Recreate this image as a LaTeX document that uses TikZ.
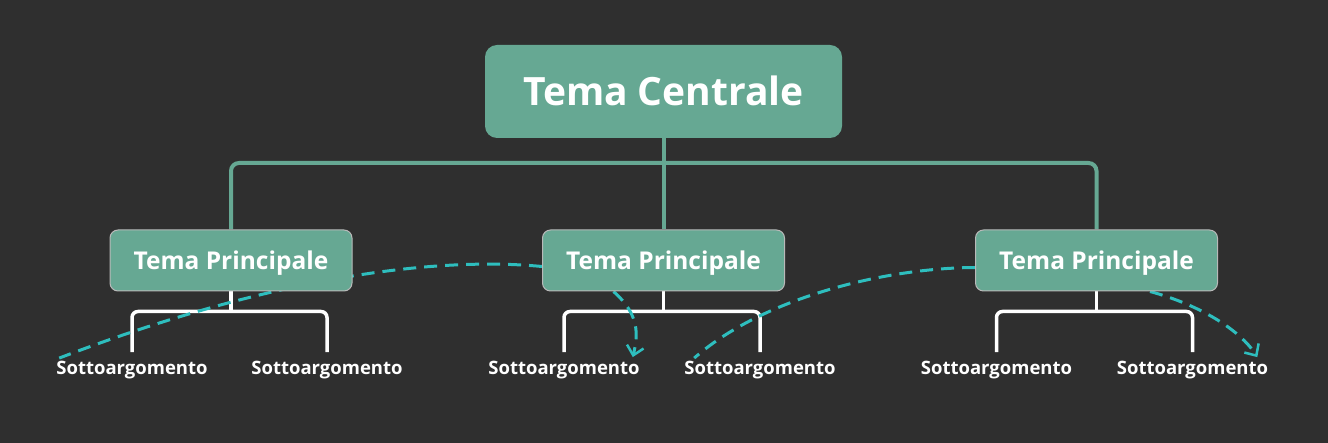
\documentclass[tikz,border=0pt]{standalone}
\usepackage{fontspec}
\setmainfont{Open Sans}
\usetikzlibrary{arrows.meta}
\definecolor{bgc}{RGB}{47,47,47}
\definecolor{teal1}{RGB}{102,168,147}
\definecolor{cyan1}{RGB}{46,190,190}
\definecolor{bord}{RGB}{185,185,185}
\pgfdeclarelayer{bg}
\pgfsetlayers{bg,main}
\begin{document}
\begin{tikzpicture}[x=1pt,y=-1pt,
 centralbox/.style={rectangle, rounded corners=12pt, fill=teal1, minimum width=357pt, minimum height=93pt, text=white, text height=28pt, text depth=0pt, font=\fontsize{39}{47}\selectfont\bfseries},
 mainbox/.style={rectangle, rounded corners=8pt, fill=teal1, draw=bord, line width=1pt, minimum width=242pt, minimum height=61pt, text=white, text height=17.5pt, text depth=0pt, font=\fontsize{24.5}{29}\selectfont\bfseries},
 sublabel/.style={inner sep=0pt, anchor=base, text=white, font=\fontsize{18.5}{22}\selectfont\bfseries, text height=13pt, text depth=4pt},
 greenline/.style={draw=teal1, line width=4pt, rounded corners=8pt},
 whiteline/.style={draw=white, line width=3.5pt, rounded corners=6pt},
 relarrow/.style={draw=cyan1, line width=3pt, dash pattern=on 13pt off 8pt},
 relhead/.style={-{Straight Barb[length=9pt,width=17pt,line width=2.5pt]}},
]
\useasboundingbox (0,0) rectangle (1328,443);
\begin{pgfonlayer}{bg}
\fill[bgc] (0,0) rectangle (1328,443);
\end{pgfonlayer}

\node[centralbox] (c) at (663.5,91.5) {Tema Centrale};
\node[mainbox] (m1) at (231,260.5) {Tema Principale};
\node[mainbox] (m2) at (663.5,260.5) {Tema Principale};
\node[mainbox] (m3) at (1096.5,260.5) {Tema Principale};

\node[sublabel] (s1) at (132,374.3) {Sottoargomento};
\node[sublabel] (s2) at (327,374.3) {Sottoargomento};
\node[sublabel] (s3) at (564,374.3) {Sottoargomento};
\node[sublabel] (s4) at (760,374.3) {Sottoargomento};
\node[sublabel] (s5) at (996.5,374.3) {Sottoargomento};
\node[sublabel] (s6) at (1192.5,374.3) {Sottoargomento};

\coordinate (hub) at (663.5,163);

\begin{pgfonlayer}{bg}
\draw[greenline] (c.south) -- (m2.north);
\draw[greenline] (m1.north) |- (hub) -| (m3.north);

\draw[whiteline] (m1.south) -- ++(0,20) coordinate (j1);
\draw[whiteline] ([yshift=9pt]s1.north) |- (j1) -| ([yshift=9pt]s2.north);
\draw[whiteline] (m2.south) -- ++(0,20) coordinate (j2);
\draw[whiteline] ([yshift=9pt]s3.north) |- (j2) -| ([yshift=9pt]s4.north);
\draw[whiteline] (m3.south) -- ++(0,20) coordinate (j3);
\draw[whiteline] ([yshift=9pt]s5.north) |- (j3) -| ([yshift=9pt]s6.north);

\draw[relarrow] ([yshift=-6pt]m2.west) .. controls (420,255) and (250,285) .. ([shift={(3pt,3pt)}]s1.north west);
\draw[relarrow,relhead] ([xshift=-50pt]m2.south) .. controls (640,315) and (638,335) .. ([shift={(-7pt,4pt)}]s3.north east);
\draw[relarrow] ([yshift=-7pt]m3.west) .. controls (880,268) and (760,300) .. ([shift={(10pt,3pt)}]s4.north west);
\draw[relarrow,relhead] ([xshift=53.5pt]m3.south) .. controls (1200,305) and (1240,330) .. ([shift={(-11pt,4pt)}]s6.north east);
\end{pgfonlayer}
\end{tikzpicture}
\end{document}
